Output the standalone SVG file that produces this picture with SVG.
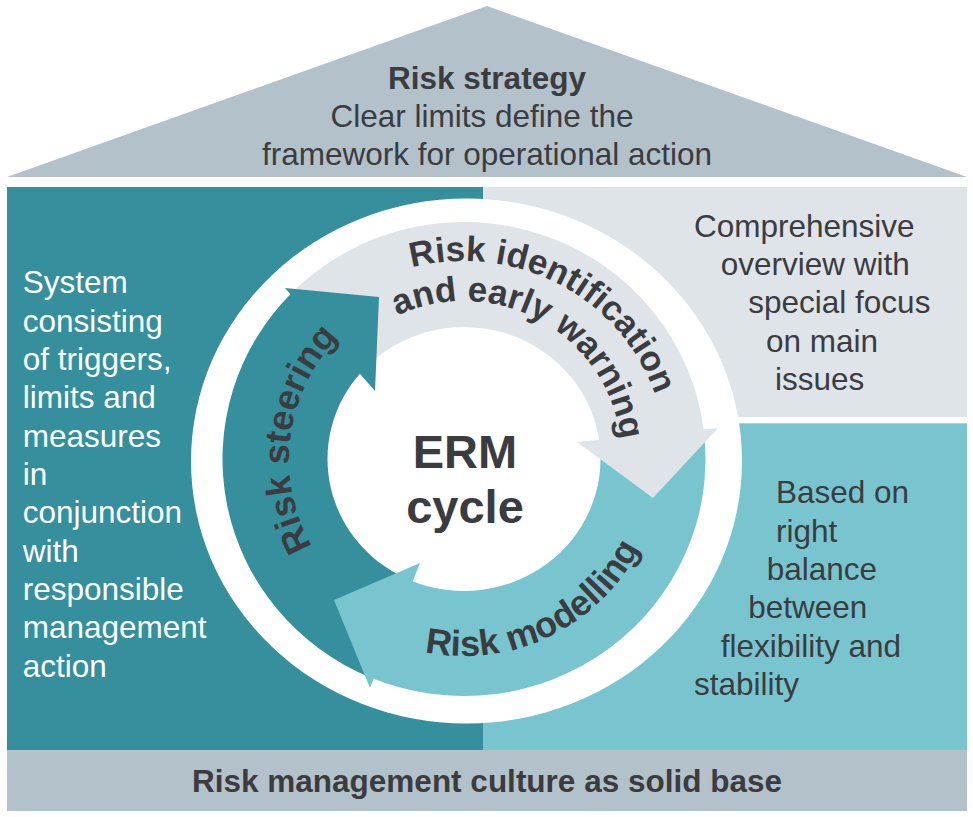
<svg xmlns="http://www.w3.org/2000/svg" width="973" height="817" viewBox="0 0 973 817">
<defs>
<style>
.t{font-family:"Liberation Sans",Arial,sans-serif;font-size:31.5px;fill:#3B3C3F}
.b{font-weight:bold}
.c{text-anchor:middle}
.w{fill:#FFFFFF}
.arc{font-family:"Liberation Sans",Arial,sans-serif;font-size:35px;font-weight:bold;fill:#3B3C3F}
.teal{fill:#358F9C}
.lteal{fill:#78C5D0}
.gray{fill:#DFE4E8}
.roof{fill:#B3C1CA}
</style>
<path id="pIdent1" d="M411.7,267.7 A202,198 0 0 1 653.8,526.7"/>
<path id="pIdent2" d="M397.2,315.8 A158,158 0 0 1 612.5,513.0"/>
<path id="pSteer" d="M312.45,546.5 A175,175 0 0 1 376.5,307.45"/>
<path id="pModel" d="M424.7,652.05 A197,197 0 0 0 658.0,424.8"/>
</defs>
<rect width="973" height="817" fill="#FFFFFF"/>

<g id="roof">
<polygon class="roof" points="7,177 487,6 967,177"/>
<text class="t b c" x="487" y="89">Risk strategy</text>
<text class="t c" x="482" y="127">Clear limits define the</text>
<text class="t c" x="487" y="165">framework for operational action</text>
</g>

<g id="panel-left">
<rect class="teal" x="7" y="187" width="476" height="563"/>
<text class="t w" x="22.7" y="293.3">System</text>
<text class="t w" x="22.7" y="331.7">consisting</text>
<text class="t w" x="22.7" y="370">of triggers,</text>
<text class="t w" x="22.7" y="408.3">limits and</text>
<text class="t w" x="22.7" y="446.7">measures</text>
<text class="t w" x="22.7" y="485">in</text>
<text class="t w" x="22.7" y="523.3">conjunction</text>
<text class="t w" x="22.7" y="561.7">with</text>
<text class="t w" x="22.7" y="600">responsible</text>
<text class="t w" x="22.7" y="638.3">management</text>
<text class="t w" x="22.7" y="676.7">action</text>
</g>

<g id="panel-right-top">
<rect class="gray" x="483" y="187" width="484" height="230"/>
<text class="t" x="694" y="236.7">Comprehensive</text>
<text class="t" x="720.7" y="275">overview with</text>
<text class="t" x="748.3" y="313.3">special focus</text>
<text class="t" x="766" y="351.7">on main</text>
<text class="t" x="775" y="390">issues</text>
</g>

<g id="panel-right-bottom">
<rect class="lteal" x="483" y="423.3" width="484" height="326.7"/>
<text class="t" x="776" y="503.3">Based on</text>
<text class="t" x="776" y="541.7">right</text>
<text class="t" x="766.7" y="580">balance</text>
<text class="t" x="748.3" y="618.3">between</text>
<text class="t" x="720.7" y="656.7">flexibility and</text>
<text class="t" x="694" y="695">stability</text>
</g>

<g id="base">
<rect class="roof" x="7" y="750" width="960" height="61"/>
<text class="t b c" x="487" y="791.7">Risk management culture as solid base</text>
</g>

<g id="cycle">
<ellipse cx="466.5" cy="461" rx="275.5" ry="262.5" fill="#FFFFFF"/>
<g id="cycle-arrows">
<path id="body-identification" class="gray" d="M292.64,292.0 A241.5,237 0 0 1 703.99,432.58 L599.3,441.54 A136.5,132 0 0 0 360.98,372.4 Z"/>
<path id="body-modelling" class="lteal" d="M703.99,432.58 A241.5,237 0 0 1 370.41,677.48 L411.1,580.69 A136.5,132 0 0 0 599.3,441.54 Z"/>
<path id="body-steering" class="teal" d="M370.41,677.48 A241.5,237 0 0 1 292.64,292.0 L360.98,372.4 A136.5,132 0 0 0 411.1,580.69 Z"/>
<polygon id="head-steering" class="teal" points="285,288 379,297 375,391"/>
<polygon id="head-identification" class="gray" points="577,442 718,428 653,498"/>
<polygon id="head-modelling" class="lteal" points="420,563 370,688 334,600"/>
</g>
<g id="label-identification">
<text class="arc"><textPath href="#pIdent1">Risk identification</textPath></text>
<text class="arc"><textPath href="#pIdent2">and early warning</textPath></text>
</g>
<g id="label-steering">
<text class="arc w" style="font-size:36px"><textPath href="#pSteer">Risk steering</textPath></text>
</g>
<g id="label-modelling">
<text class="arc" style="font-size:36px"><textPath href="#pModel">Risk modelling</textPath></text>
</g>
<g id="center">
<text class="t b c" x="465" y="467.5" style="font-size:47px">ERM</text>
<text class="t b c" x="465" y="523" style="font-size:47px">cycle</text>
</g>
</g>
</svg>
